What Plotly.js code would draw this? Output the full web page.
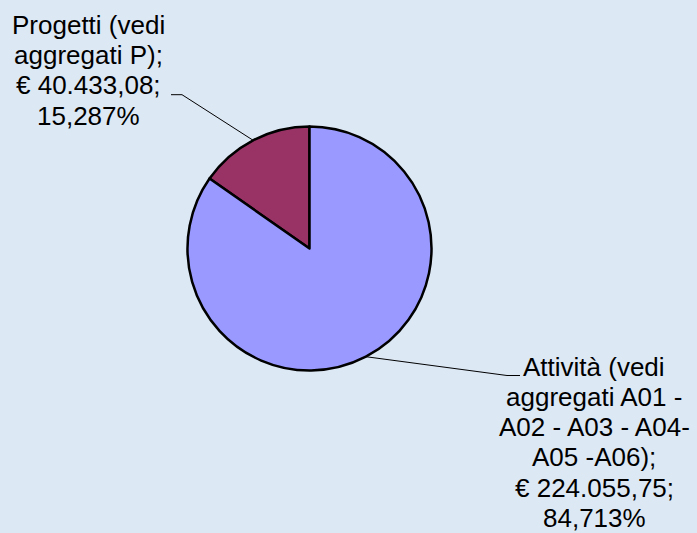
<!DOCTYPE html>
<html>
<head>
<meta charset="utf-8">
<script src="https://cdn.plot.ly/plotly-3.0.1.min.js"></script>
<style>
html,body{margin:0;padding:0;background:#DDE8F5;}
#chart{width:697px;height:533px;}
</style>
</head>
<body>
<div id="chart"></div>
<script>
// Data
const categories = ["Progetti (vedi aggregati P)", "Attività (vedi aggregati A01 - A02 - A03 - A04- A05 -A06)"];
const values = [40433.08, 224055.75];
const colors = ["#993366", "#9999FF"];
const progettiLabelLines = ["Progetti (vedi", "aggregati P);", "€ 40.433,08;", "15,287%"];
const attivitaLabelLines = ["Attività (vedi", "aggregati A01 -", "A02 - A03 - A04-", "A05 -A06);", "€ 224.055,75;", "84,713%"];

// Layout geometry (pixels)
const W = 697, H = 533;
const cx = 309.5, cy = 248.5, R = 122;
const fontSize = 26, lineGap = 30.3;

const px = x => x / W;
const py = y => 1 - y / H;

// mid-angles from data (counterclockwise from 12 o'clock)
const total = values.reduce((a, b) => a + b, 0);
let acc = 0;
const mids = values.map(v => { const m = (acc + v / 2) / total * 2 * Math.PI; acc += v; return m; });
const edgePt = a => [cx - R * Math.sin(a), cy - R * Math.cos(a)];
const startRotation = -360 * values[0] / total;

const annotations = [];
function addLines(lines, xc, firstBaseline) {
  lines.forEach((t, i) => {
    annotations.push({
      text: t, xref: 'paper', yref: 'paper',
      x: px(xc), y: py(firstBaseline + i * lineGap - 8.5),
      xanchor: 'center', yanchor: 'middle', showarrow: false,
      font: { family: 'Liberation Sans, Arial, sans-serif', size: fontSize, color: '#000000' }
    });
  });
}
addLines(progettiLabelLines, 88, 33.3);
addLines(attivitaLabelLines, 594, 375);

const p0 = edgePt(mids[0]);
const p1 = edgePt(mids[1]);
const shapes = [
  { type: 'path', xref: 'paper', yref: 'paper',
    path: `M ${px(p0[0])} ${py(p0[1])} L ${px(182)} ${py(94.7)} L ${px(171)} ${py(94.7)}`,
    line: { color: '#000000', width: 1 } },
  { type: 'path', xref: 'paper', yref: 'paper',
    path: `M ${px(p1[0])} ${py(p1[1])} L ${px(507)} ${py(375.5)} L ${px(520)} ${py(375.5)}`,
    line: { color: '#000000', width: 1 } }
];

const trace = {
  type: 'pie',
  labels: categories,
  values: values,
  sort: false,
  direction: 'clockwise',
  rotation: startRotation,
  textinfo: 'none',
  hoverinfo: 'skip',
  marker: { colors: colors, line: { color: '#000000', width: 2.5 } },
  domain: { x: [px(cx - R), px(cx + R)], y: [py(cy + R), py(cy - R)] }
};

const layout = {
  width: W, height: H,
  margin: { l: 0, r: 0, t: 0, b: 0 },
  paper_bgcolor: '#DDE8F5',
  plot_bgcolor: '#DDE8F5',
  showlegend: false,
  annotations: annotations,
  shapes: shapes
};

Plotly.newPlot('chart', [trace], layout, { displayModeBar: false, staticPlot: true });
</script>
</body>
</html>
